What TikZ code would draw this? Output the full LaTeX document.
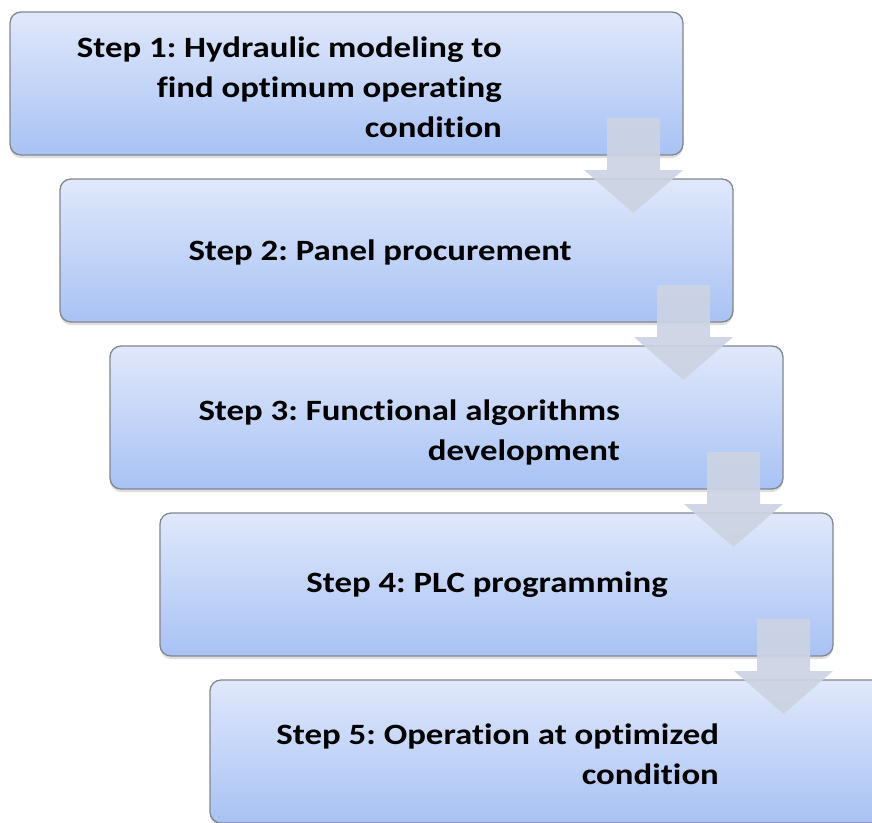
\documentclass[tikz,border=0pt]{standalone}
\usepackage{fontspec}
\setmainfont{Carlito}
\newfontfamily\stepfont{Carlito}[Ligatures=NoCommon, FakeStretch=1.18]
\usetikzlibrary{shadows}
\definecolor{boxtop}{RGB}{224,232,251}
\definecolor{boxbot}{RGB}{168,194,244}
\definecolor{boxedge}{RGB}{130,134,142}
\definecolor{arrowfill}{RGB}{204,211,227}
\tikzset{
  stepbox/.style={draw=boxedge, line width=1.3pt, rounded corners=11pt,
    top color=boxtop, bottom color=boxbot, minimum width=673pt, minimum height=143pt,
    inner sep=0pt, drop shadow={shadow xshift=0pt, shadow yshift=-3pt, opacity=0.25}},
  steptext/.style={anchor=east, align=right, inner sep=0pt,
    font=\stepfont\fontsize{29.5pt}{40pt}\selectfont\bfseries\frenchspacing},
  downarrow/.style={fill=arrowfill, draw=none, fill opacity=0.92}
}
\begin{document}
\begin{tikzpicture}[x=1pt,y=-1pt]
\useasboundingbox (0,0) rectangle (872,822);
\node[stepbox] (b1) at (346.5,83.5) {};
\node[stepbox] (b2) at (396.5,250.5) {};
\node[stepbox] (b3) at (446.5,417.5) {};
\node[stepbox] (b4) at (496.5,584.5) {};
\node[stepbox] (b5) at (546.5,751.5) {};
\node[steptext] (t1) at (502,87) {Step 1: Hydraulic modeling to\\find optimum operating\\condition};
\node[steptext] (t2) at (572,252) {Step 2: Panel procurement};
\node[steptext] (t3) at (620,432) {Step 3: Functional algorithms\\development};
\node[steptext] (t4) at (668,585) {Step 4: PLC programming};
\node[steptext] (t5) at (719,754) {Step 5: Operation at optimized\\condition};
\foreach \i/\name in {0/a1,1/a2,2/a3,3/a4}{
  \pgfmathsetmacro{\dx}{50*\i}
  \pgfmathsetmacro{\dy}{167*\i}
  \draw[downarrow] (607+\dx,118+\dy) -- (660+\dx,118+\dy) -- (660+\dx,170+\dy)
     -- (683+\dx,170+\dy) -- (633.5+\dx,213+\dy) -- (584+\dx,170+\dy)
     -- (607+\dx,170+\dy) -- cycle;
}
\end{tikzpicture}
\end{document}
